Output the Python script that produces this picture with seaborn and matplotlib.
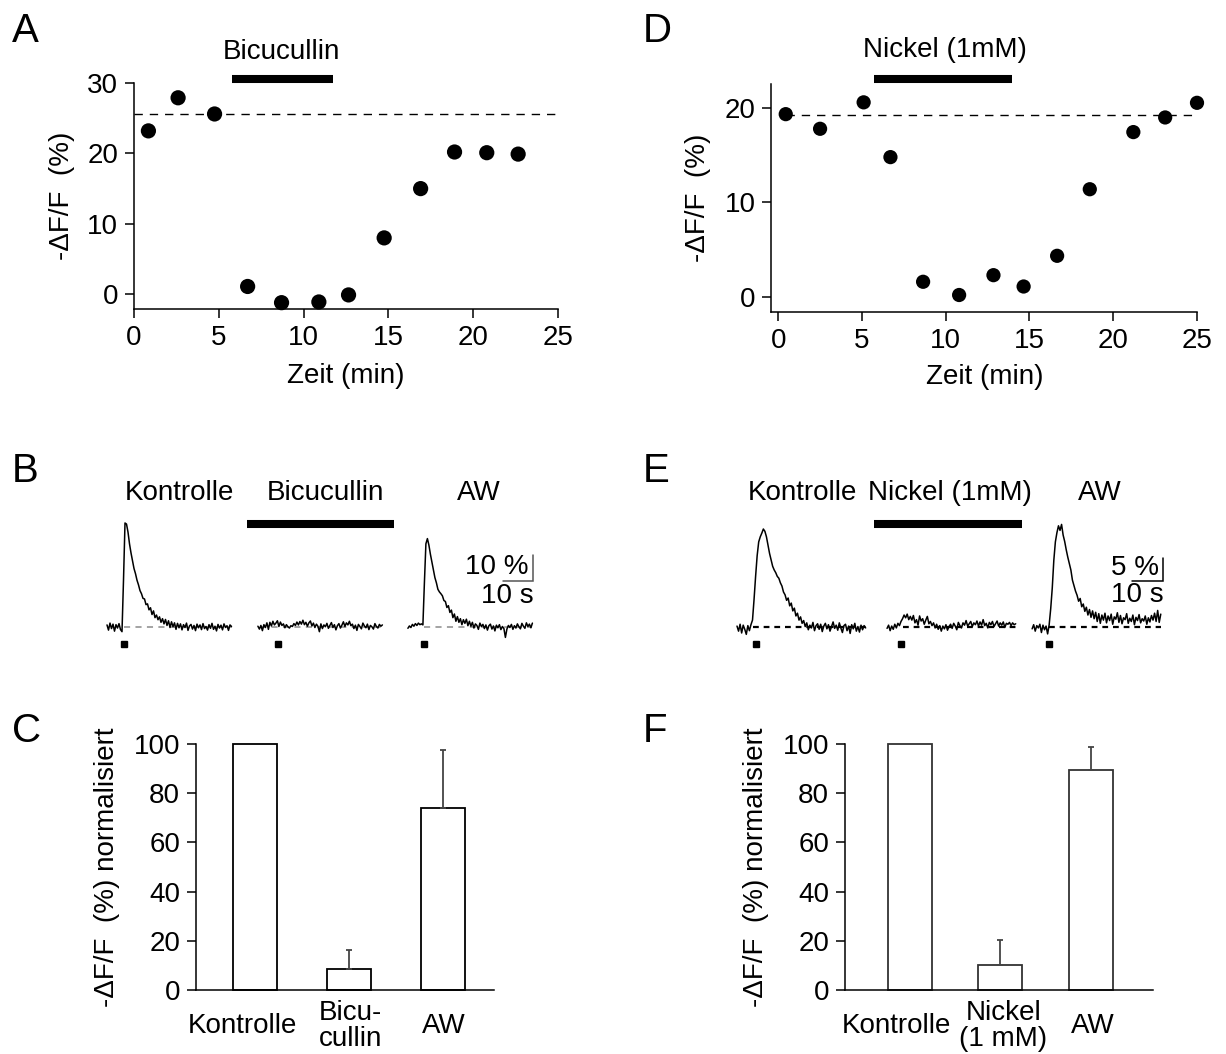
import numpy as np
import pandas as pd
import matplotlib
matplotlib.use("Agg")
import matplotlib.pyplot as plt
import matplotlib.transforms as mtransforms
import seaborn as sns

# ---------------- data ----------------
# A: Bicucullin time course
time_a = [0.85, 2.6, 4.75, 6.7, 8.7, 10.9, 12.65, 14.75, 16.9, 18.9, 20.8, 22.65]
dff_a = [23.2, 27.9, 25.6, 1.1, -1.2, -1.1, -0.1, 8.0, 15.0, 20.2, 20.1, 19.9]
baseline_a = 25.6
bicu_period = [5.75, 11.75]

# D: Nickel time course
time_d = [0.45, 2.5, 5.1, 6.7, 8.65, 10.8, 12.85, 14.65, 16.65, 18.6, 21.2, 23.1, 25.0]
dff_d = [19.35, 17.8, 20.6, 14.8, 1.6, 0.2, 2.3, 1.1, 4.35, 11.4, 17.45, 19.0, 20.55]
baseline_d = 19.3
nickel_period = [5.7, 13.95]

# B: example traces (-dF/F in %, sampled every 0.5 s)
dt = 0.5
trace_b_kontrolle = [
    0.8, -1.2, 1.5, -0.6, 1.1, -1.6, 0.9, -0.4, 1.3, -1.0,
    -1.8, 18.0, 40.0, 39.6, 36.5, 32.0, 28.5, 25.5, 22.5, 20.5,
    18.0, 16.2, 14.0, 12.8, 11.0, 10.8, 8.6, 8.9, 6.6, 7.4,
    4.8, 6.2, 3.6, 4.6, 2.8, 3.9, 1.8, 3.2, 1.2, 2.9,
    0.6, 2.4, -0.2, 2.0, 0.1, 1.6, -0.9, 1.4, -0.3, 1.2,
    -1.1, 0.9, -0.2, 1.5, -1.3, 0.4, 1.0, -0.8, 0.6, -1.4,
    1.1, -0.3, 0.8, -1.0, 1.3, -0.6, 0.2, -1.2, 0.9, -0.5,
    1.4, -0.9, 0.3, -1.5, 1.0, -0.4, 0.7, -1.1, 1.2, -0.2,
    0.5, -1.3, 0.8, 0.2]
trace_b_bicucullin = [
    0.3, -0.8, 0.6, -1.4, 0.9, -0.2, 1.6, -0.9, 1.8, 0.4,
    2.2, 0.8, 1.5, 2.4, 0.2, 1.9, 0.6, 1.2, -0.3, 0.9,
    0.1, -0.4, 0.5, 0.2, 1.3, 0.6, 1.9, 0.8, 2.1, 1.1,
    2.6, 0.9, 1.8, 0.3, 1.6, 2.3, 0.4, 1.5, -0.2, 1.1,
    0.3, -1.8, 1.2, -0.6, 0.8, 0.1, 1.4, -0.5, 0.6, 1.7,
    -0.2, 0.9, -1.1, 0.5, 1.3, -0.4, 0.7, 2.0, 0.2, 1.6,
    0.8, 2.2, 0.5, 1.1, -0.6, 0.7, -1.3, 1.0, 0.2, -0.7,
    1.5, 0.4, -0.3, 1.1, -1.0, 0.6, 0.1, -0.8, 1.3, 0.2,
    -0.4, 1.0, 0.3, 0.8]
trace_b_aw = [
    -0.5, 0.4, -0.2, 1.0, 0.3, 1.3, 0.6, 1.5, 0.9, 1.2,
    0.8, 17.0, 32.0, 34.0, 31.5, 28.0, 25.0, 22.0, 19.0, 17.0,
    14.5, 13.5, 12.8, 12.0, 10.2, 9.8, 7.5, 8.2, 5.6, 6.5,
    3.6, 5.0, 2.2, 4.0, 1.8, 3.2, 0.9, 2.8, 1.4, 3.0,
    0.5, 2.2, 0.3, 1.8, -0.4, 1.2, 0.6, -0.9, 1.5, 0.2,
    1.0, -0.6, 0.8, -1.2, 0.5, 1.1, -0.8, 0.4, -1.5, 0.7,
    -0.3, 0.9, -1.0, 0.2, -0.6, -4.0, -0.8, 0.6, -0.2, 1.0,
    -0.9, 0.5, -0.4, 1.2, 0.1, -0.7, 1.4, 0.3, -0.5, 1.6,
    0.2, 1.1, -0.3, 1.5]

# E: example traces
trace_e_kontrolle = [
    0.2, -0.9, 0.6, -1.3, 0.4, -0.5, -1.6, 0.3, -0.8, 0.5,
    1.5, 6.0, 11.0, 15.5, 18.5, 19.6, 20.4, 21.3, 20.8, 19.6,
    17.8, 16.0, 14.6, 13.2, 12.4, 11.8, 11.0, 10.6, 9.6, 8.9,
    7.6, 7.0, 5.8, 6.3, 4.6, 5.2, 3.5, 4.1, 2.4, 3.0,
    1.5, 2.2, 0.8, 1.4, 0.1, 0.9, -0.6, 0.4, -0.2, 1.0,
    -0.8, 0.3, 0.7, -0.5, 0.6, -1.0, 0.2, 0.8, -0.4, 0.5,
    -0.9, 0.1, 1.1, -0.3, 0.4, -0.7, 0.9, -0.2, -1.2, 0.3,
    0.6, -0.8, 0.2, -1.4, 0.5, -0.4, 0.8, -0.9, 0.1, -1.1,
    0.4, -0.6, 0.3, -0.2]
trace_e_nickel = [
    -0.3, 0.4, -0.8, 0.2, -0.5, 0.6, -0.2, 0.8, 0.3, 1.2,
    1.8, 2.6, 2.0, 2.8, 1.6, 2.3, 1.5, 2.5, 0.9, 1.6,
    0.4, 2.4, 1.3, 1.8, 0.6, 1.5, 2.3, 0.7, 1.2, 0.3,
    0.9, -0.2, 0.6, -0.5, 0.3, -0.9, 0.2, -0.4, 0.5, -0.7,
    0.1, 0.6, -0.3, 0.8, 0.2, -0.6, 1.0, 0.3, -0.2, 0.9,
    0.4, 1.4, 0.2, 0.7, 1.2, 0.1, 0.9, 0.5, 1.3, 0.2,
    1.1, 0.4, 1.6, 0.3, 0.8, -0.2, 1.0, 0.5, 1.2, 0.1,
    0.7, 1.3, 0.2, 0.9, 0.4, 1.1, -0.1, 0.8, 0.6, 1.0,
    0.3, 0.9, 0.5, 0.7]
trace_e_aw = [
    -0.4, 0.5, -0.9, 0.3, -0.2, 0.6, -1.2, 0.4, -0.6, 0.2,
    -1.5, 0.5, 4.0, 8.5, 14.5, 18.5, 20.5, 22.0, 21.0, 22.3,
    20.0, 18.6, 16.8, 15.2, 13.8, 12.4, 10.2, 9.0, 7.8, 6.9,
    5.6, 6.2, 4.4, 5.0, 3.4, 4.3, 2.6, 3.8, 2.1, 3.5,
    1.8, 3.2, 1.2, 2.9, 0.8, 2.6, 1.5, 3.0, 0.9, 2.4,
    1.4, 2.8, 0.6, 2.2, 1.7, 3.1, 1.0, 2.5, 0.7, 2.0,
    1.6, 2.9, 0.8, 1.9, 1.2, 2.6, 0.5, 2.1, 1.4, 2.7,
    0.9, 1.8, 1.3, 2.4, 0.6, 2.0, 1.1, 2.5, 1.5, 3.0,
    1.2, 3.6, 1.0, 2.8]

# C / F: normalised responses (mean and upper error)
cond_c = ["Kontrolle", "Bicu-\ncullin", "AW"]
mean_c = [100.0, 8.5, 74.0]
err_c = [0.0, 7.7, 23.4]

cond_f = ["Kontrolle", "Nickel\n(1 mM)", "AW"]
mean_f = [100.0, 10.1, 89.3]
err_f = [0.0, 10.1, 9.3]

# ---------------- style ----------------
sns.set_theme(style="ticks")
plt.rcParams["font.family"] = ["Liberation Sans", "DejaVu Sans"]
plt.rcParams.update({
    "font.size": 20,
    "axes.linewidth": 1.1,
    "xtick.major.width": 1.1,
    "ytick.major.width": 1.1,
    "xtick.major.size": 6.5,
    "ytick.major.size": 6.5,
    "xtick.major.pad": 5,
    "ytick.major.pad": 5,
    "xtick.labelsize": 20,
    "ytick.labelsize": 20,
    "axes.labelsize": 20,
    "xtick.color": "black",
    "ytick.color": "black",
    "axes.edgecolor": "black",
    "axes.labelcolor": "black",
    "text.color": "black",
})

W, H = 1226, 1054
fig = plt.figure(figsize=(W / 100, H / 100), dpi=100)


def px_axes(left, top, right, bottom):
    return fig.add_axes([left / W, 1 - bottom / H, (right - left) / W, (bottom - top) / H])


def style_xy(ax):
    sns.despine(ax=ax)
    ax.tick_params(direction="out")


ylab = "-\u0394F/F  (%)"

# ---------------- A ----------------
axA = px_axes(134, 83, 558, 309)
sns.scatterplot(x=time_a, y=dff_a, ax=axA, color="black", s=120,
                edgecolor="none", clip_on=False, zorder=3)
axA.plot([0, 25], [baseline_a, baseline_a], color="black", lw=1.0,
         ls=(0, (6, 5)), clip_on=False)
axA.plot(bicu_period, [30.6, 30.6], color="black", lw=5.8,
         solid_capstyle="butt", clip_on=False)
axA.text(np.mean(bicu_period) - 0.05, 34.4, "Bicucullin", ha="center", va="center")
axA.set_xlim(0, 25)
axA.set_ylim(-2.1, 30)
axA.set_xticks([0, 5, 10, 15, 20, 25])
axA.set_yticks([0, 10, 20, 30])
axA.set_xlabel("Zeit (min)", labelpad=9)
axA.set_ylabel(ylab, labelpad=9)
style_xy(axA)

# ---------------- D ----------------
axD = px_axes(771.5, 84.4, 1197, 312)
sns.scatterplot(x=time_d, y=dff_d, ax=axD, color="black", s=105,
                edgecolor="none", clip_on=False, zorder=3)
axD.plot([time_d[0], 25], [baseline_d, baseline_d], color="black", lw=1.0,
         ls=(0, (6, 5)), clip_on=False)
axD.plot(nickel_period, [23.1, 23.1], color="black", lw=5.8,
         solid_capstyle="butt", clip_on=False)
axD.text(9.95, 26.1, "Nickel (1mM)", ha="center", va="center")
axD.set_xlim(-0.4, 25)
axD.set_ylim(-1.6, 22.5)
axD.set_xticks([0, 5, 10, 15, 20, 25])
axD.set_yticks([0, 10, 20])
axD.set_xlabel("Zeit (min)", labelpad=7)
axD.set_ylabel(ylab, labelpad=10)
style_xy(axD)


# ---------------- traces ----------------
def draw_trace(ax, values, start, onset, stim, stim_y, dash_color, dash_lw, dash_pat):
    t = start + np.arange(len(values)) * dt
    ax.plot([onset, t[-1]], [0, 0], color=dash_color, lw=dash_lw, ls=dash_pat, zorder=1)
    sns.lineplot(x=t, y=values, ax=ax, color="black", lw=1.1, sort=False,
                 estimator=None, zorder=2)
    ax.plot([stim], [stim_y], marker="s", ms=4.6, color="black", ls="none")


axB = px_axes(100, 500, 560, 660)
axB.set_xlim(-7 / 3, 151)
axB.set_ylim(-33 / 2.6, 127 / 2.6)
axB.axis("off")
grey_dash = (0, (4, 3.5))
draw_trace(axB, trace_b_kontrolle, 0.0, 5.5, 5.7, -6.5, "#8a8a8a", 1.1, grey_dash)
draw_trace(axB, trace_b_bicucullin, 50.3, 51.0, 57.0, -6.5, "#8a8a8a", 1.1, grey_dash)
draw_trace(axB, trace_b_aw, 100.3, 105.5, 105.7, -6.5, "#8a8a8a", 1.1, grey_dash)
axB.plot([46.7, 95.7], [39.6, 39.6], color="black", lw=5.8, solid_capstyle="butt",
         clip_on=False)
for xx, lab in [(24.0, "Kontrolle"), (72.7, "Bicucullin"), (124.0, "AW")]:
    axB.text(xx, 51.5, lab, ha="center", va="center", clip_on=False)
# scale bar: 10 % / 10 s
axB.plot([132, 142, 142], [17.7, 17.7, 27.7], color="#555555", lw=1.1,
         solid_joinstyle="miter")
axB.text(140.6, 23.0, "10 %", ha="right", va="center")
axB.text(142.3, 11.8, "10 s", ha="right", va="center")

axE = px_axes(725, 500, 1190, 660)
axE.set_xlim(-12 / 3.1, 453 / 3.1)
axE.set_ylim(-33 / 4.6, 127 / 4.6)
axE.axis("off")
black_dash = (0, (2.6, 2.2))
draw_trace(axE, trace_e_kontrolle, 0.0, 5.0, 6.1, -3.7, "black", 1.6, black_dash)
draw_trace(axE, trace_e_nickel, 48.4, 53.5, 52.9, -3.7, "black", 1.6, black_dash)
draw_trace(axE, trace_e_aw, 95.2, 100.8, 100.6, -3.7, "black", 1.6, black_dash)
axE.plot([44.2, 91.9], [22.4, 22.4], color="black", lw=5.8, solid_capstyle="butt",
         clip_on=False)
for xx, lab in [(21.0, "Kontrolle"), (68.7, "Nickel (1mM)"), (117.0, "AW")]:
    axE.text(xx, 29.1, lab, ha="center", va="center", clip_on=False)
# scale bar: 5 % / 10 s
axE.plot([127.4, 137.4, 137.4], [10.0, 10.0, 15.0], color="black", lw=1.1,
         solid_joinstyle="miter")
axE.text(136.0, 12.9, "5 %", ha="right", va="center")
axE.text(137.5, 7.0, "10 s", ha="right", va="center")


# ---------------- bar charts ----------------
def bar_panel(ax, cond, mean, err, width, xlim, edge, label_shift, ylabelpad):
    df = pd.DataFrame({"cond": cond, "val": mean})
    sns.barplot(data=df, x="cond", y="val", ax=ax, color="white", width=width,
                edgecolor=edge, linewidth=1.3, errorbar=None, saturation=1)
    for p in ax.patches:
        p.set_facecolor("white")
        p.set_clip_on(False)
    idx = [i for i, e in enumerate(err) if e > 0]
    ax.errorbar(idx, [mean[i] for i in idx],
                yerr=[[0] * len(idx), [err[i] for i in idx]],
                fmt="none", ecolor="#444444", elinewidth=1.3, capsize=2.5,
                capthick=1.3, zorder=3)
    ax.set_xlim(*xlim)
    ax.set_ylim(0, 100)
    ax.set_yticks([0, 20, 40, 60, 80, 100])
    ax.set_xlabel("")
    ax.set_ylabel("-\u0394F/F  (%) normalisiert", labelpad=ylabelpad)
    sns.despine(ax=ax)
    ax.tick_params(axis="x", length=0, pad=26)
    for lab, dx in zip(ax.get_xticklabels(), label_shift):
        lab.set_verticalalignment("center")
        lab.set_linespacing(1.0)
        shift = mtransforms.ScaledTranslation(dx / 100, 0, fig.dpi_scale_trans)
        lab.set_transform(lab.get_transform() + shift)


axC = px_axes(196, 744, 494, 990)
bar_panel(axC, cond_c, mean_c, err_c, 0.47, (-0.628, 2.54), "black",
          [-13, 1, 1], 9.5)

axF = px_axes(845, 744, 1153, 990)
bar_panel(axF, cond_f, mean_f, err_f, 0.49, (-0.72, 2.69), "#333333",
          [-14, 3, 2], 10)

# ---------------- panel letters ----------------
for x, y, s in [(12, 42, "A"), (12, 482, "B"), (12, 742, "C"),
                (643, 42, "D"), (643, 482, "E"), (643, 742, "F")]:
    fig.text(x / W, 1 - y / H, s, fontsize=29, ha="left", va="baseline")

fig.savefig("out.png", dpi=100, facecolor="white")
